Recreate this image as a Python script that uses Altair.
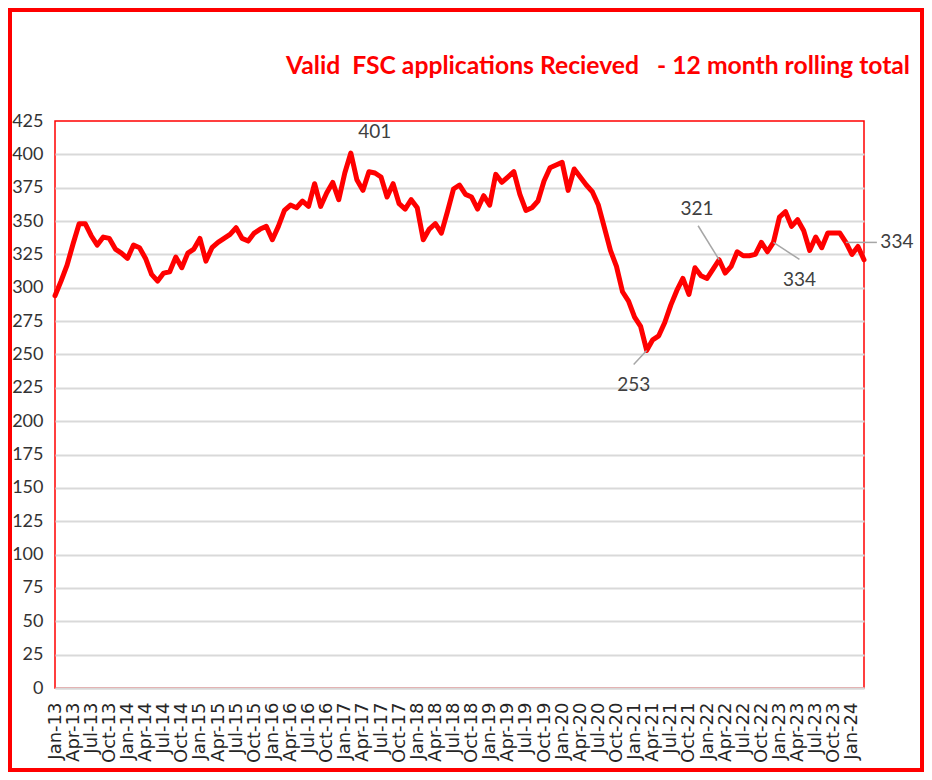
import json
import altair as alt
import pandas as pd

# 12 month rolling total, monthly Jan-13 .. Mar-24
values = [
    294, 305, 317, 333, 348, 348, 339, 332, 338, 337, 329, 326,   # 2013
    322, 332, 330, 322, 310, 305, 311, 312, 323, 315, 326, 329,   # 2014
    337, 320, 330, 334, 337, 340, 345, 337, 335, 341, 344, 346,   # 2015
    336, 346, 358, 362, 360, 365, 361, 378, 361, 371, 379, 366,   # 2016
    386, 401, 381, 373, 387, 386, 383, 368, 378, 363, 359, 366,   # 2017
    360, 336, 344, 348, 341, 357, 374, 377, 370, 368, 359, 369,   # 2018
    362, 385, 379, 383, 387, 370, 358, 360, 365, 380, 390, 392,   # 2019
    394, 373, 389, 383, 377, 372, 362, 345, 328, 316, 297, 290,   # 2020
    278, 271, 253, 261, 264, 274, 287, 298, 307, 295, 315, 309,   # 2021
    307, 314, 321, 311, 316, 327, 324, 324, 325, 334, 327, 334,   # 2022
    353, 357, 346, 351, 343, 328, 338, 330, 341, 341, 341, 334,   # 2023
    325, 331, 321,                                                # 2024
]
month_names = ["Jan", "Feb", "Mar", "Apr", "May", "Jun",
               "Jul", "Aug", "Sep", "Oct", "Nov", "Dec"]
labels = [f"{month_names[i % 12]}-{13 + i // 12}" for i in range(len(values))]
tick_idx = list(range(0, len(values), 3))
y_ticks = list(range(0, 426, 25))

title_text = "Valid\u00a0 FSC applications Recieved \u00a0 - 12 month rolling total"

# annotated points
ann_months = ["Feb-17", "Mar-21", "Mar-22", "Dec-22", "Dec-23"]
ann_values = [401, 253, 321, 334, 334]

df = pd.DataFrame({"idx": list(range(len(values))), "month": labels, "total": values})

W, H = 809, 567
PL, PT, PR, PB = 47, 113, 60, 84

x_scale = alt.Scale(domain=[0, len(values) - 1], nice=False, zero=False)
y_scale = alt.Scale(domain=[0, 425], nice=False)

x_axis = alt.Axis(values=tick_idx,
                  labelExpr=f"{json.dumps(labels)}[datum.value]",
                  labelAngle=270, labelFont="DejaVu Sans", labelFontSize=18,
                  labelColor="#262626", labelOverlap=False, labelFlush=False,
                  labelPadding=14, ticks=False, grid=False,
                  domainColor="#D9D9D9", domainWidth=2, title=None)
y_axis = alt.Axis(values=y_ticks, labelFont="Lato", labelFontSize=18,
                  labelColor="#333333", ticks=False, domain=False,
                  labelOverlap=False, labelFlush=False,
                  gridColor="#D9D9D9", gridWidth=2,
                  gridOpacity=alt.condition("datum.value >= 425", alt.value(0), alt.value(1)),
                  labelPadding=12, title=None)


def xe():
    return alt.X("idx:Q", scale=x_scale, axis=x_axis)


def ye():
    return alt.Y("total:Q", scale=y_scale, axis=y_axis)


one = pd.DataFrame({"a": [0]})

frame = alt.Chart(one).mark_rect(
    fillOpacity=0, stroke="#FF0000", strokeWidth=4
).encode(
    x=alt.value(-PL + 2), x2=alt.value(W + PR - 2),
    y=alt.value(-PT + 2), y2=alt.value(H + PB - 2),
)

title = alt.Chart(one).mark_text(
    text=title_text, font="Lato", fontSize=24.7, fontWeight="bold", color="#FF0000",
    align="right", baseline="alphabetic"
).encode(x=alt.value(W + 46), y=alt.value(-47))

line = alt.Chart(df).mark_line(
    color="#FF0000", strokeWidth=5, strokeJoin="round", strokeCap="round"
).encode(x=xe(), y=ye())


def ann_df(k):
    return pd.DataFrame({"idx": [labels.index(ann_months[k])],
                         "total": [ann_values[k]],
                         "txt": [str(ann_values[k])]})


label_offsets = [(24, -21), (-13, 35), (-22, -51), (26, 38), (51, 0)]
leader_offsets = [None, (-13, 14), (-21, -34), (26, 17), (31, 0)]

layers = [line]
for k in range(len(ann_months)):
    d = ann_df(k)
    lo = leader_offsets[k]
    if lo is not None:
        layers.append(
            alt.Chart(d).mark_rule(color="#A6A6A6", strokeWidth=1.5,
                                   x2Offset=lo[0], y2Offset=lo[1]).encode(
                x=xe(), x2="idx:Q", y=ye(), y2="total:Q")
        )
    dx, dy = label_offsets[k]
    layers.append(
        alt.Chart(d).mark_text(dx=dx, dy=dy, font="Lato", fontSize=19,
                               color="#404040", align="center", baseline="middle").encode(
            x=xe(), y=ye(), text="txt:N")
    )
layers += [frame, title]

chart = alt.layer(*layers).properties(
    width=W, height=H,
    padding={"left": PL, "top": PT, "right": PR, "bottom": PB},
    autosize=alt.AutoSizeParams(type="none"),
).configure_view(stroke="#FF0000", strokeWidth=1.5)

chart.save("out.html", embed_options={"renderer": "svg", "actions": False})
